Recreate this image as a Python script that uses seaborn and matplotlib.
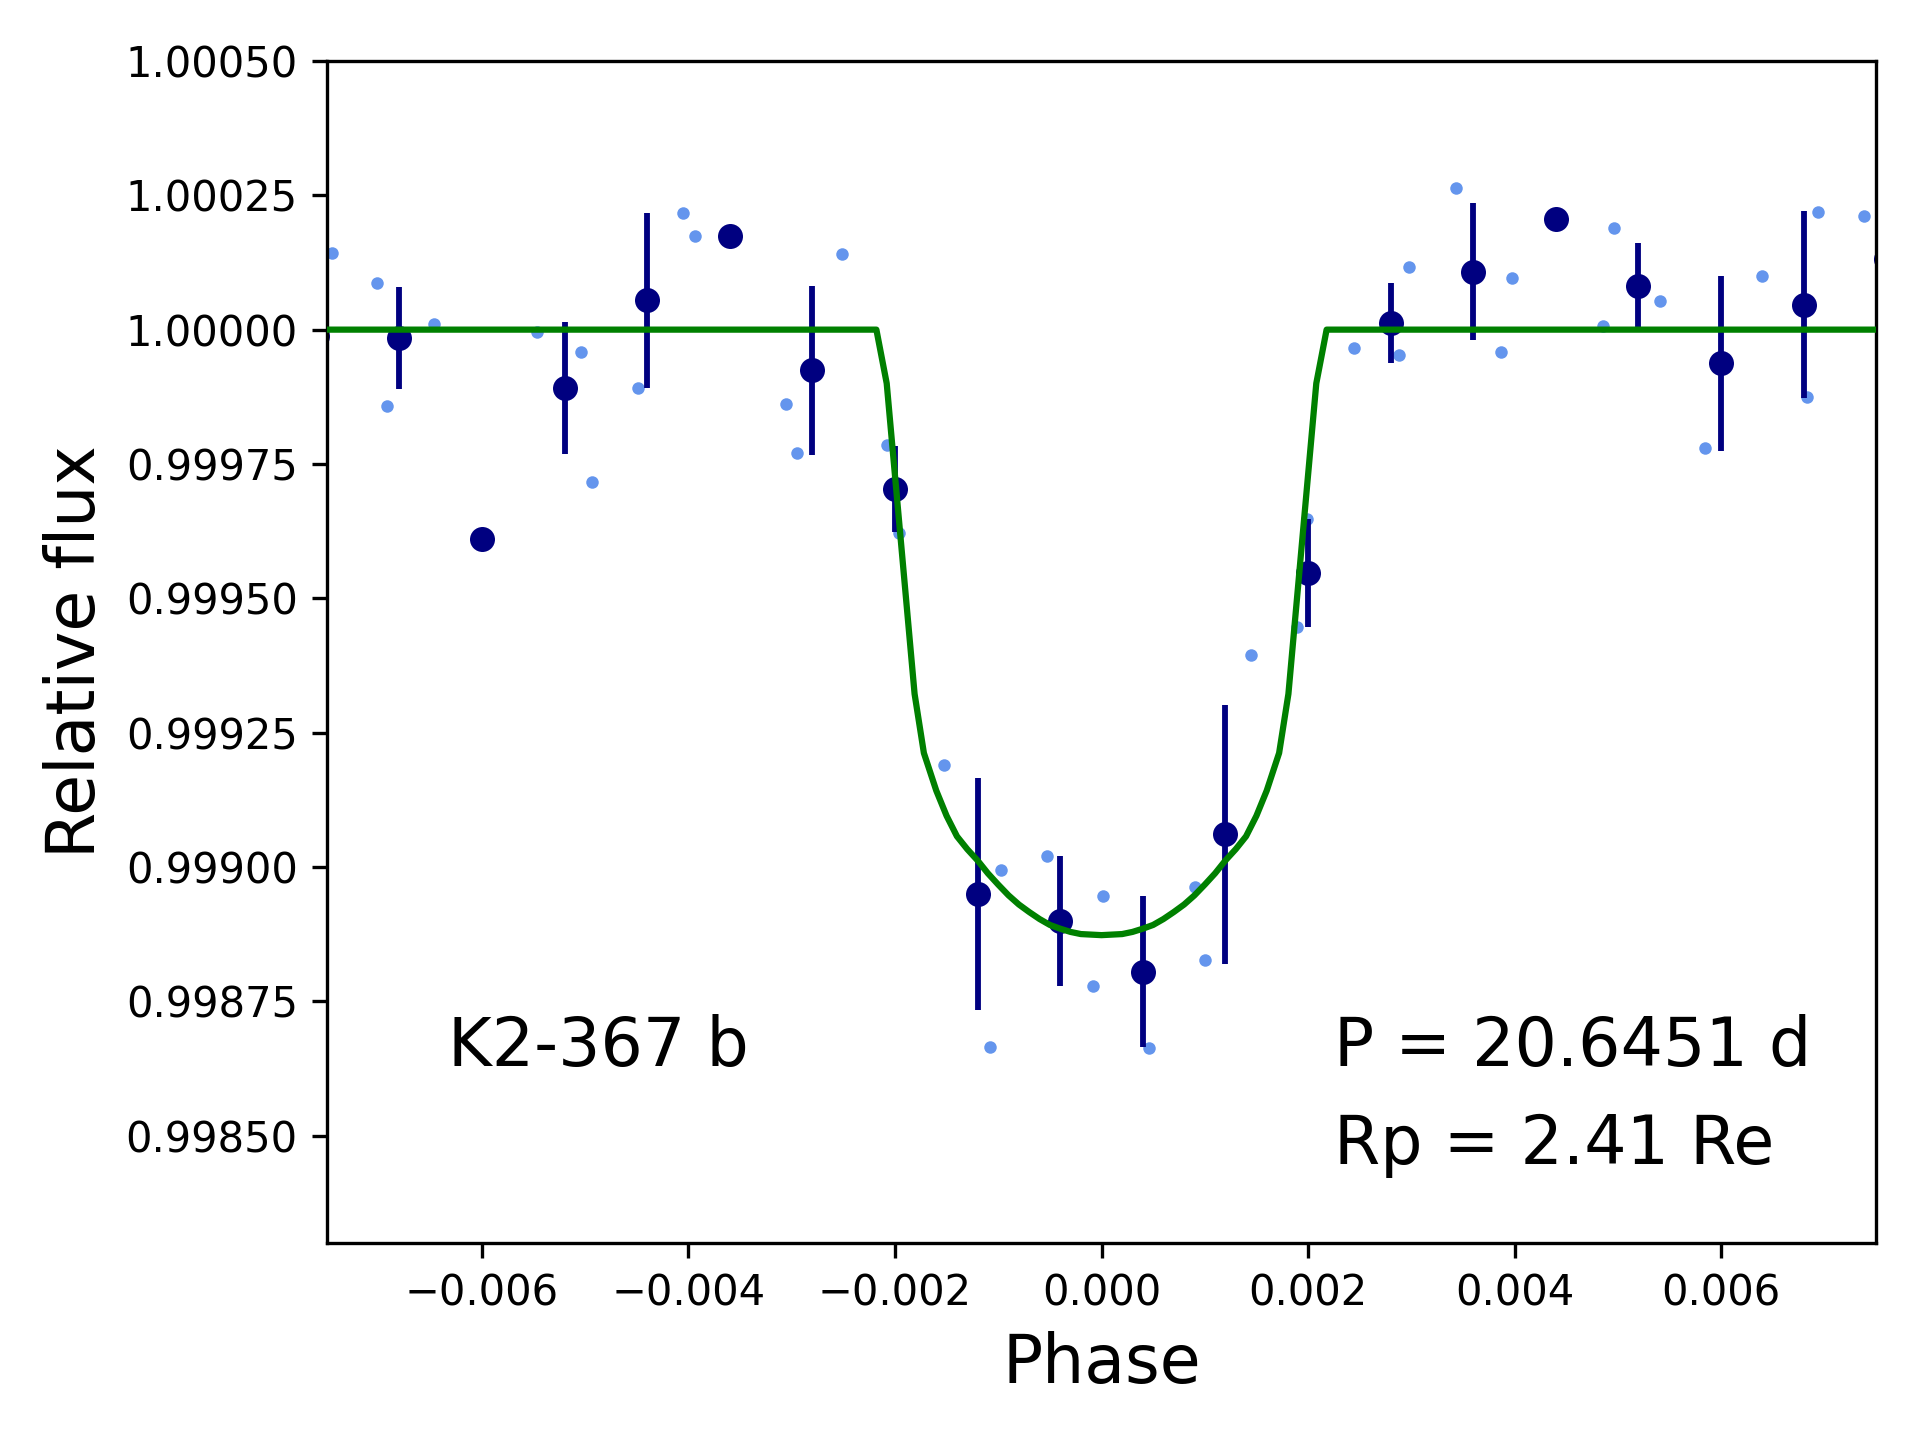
import numpy as np
import pandas as pd
import matplotlib
matplotlib.use("Agg")
import matplotlib.pyplot as plt
import seaborn as sns
from matplotlib.ticker import ScalarFormatter

# ---------------- data ----------------
light_phase = [-0.00745, -0.00702, -0.00692, -0.00646, -0.00547, -0.00504, -0.00493,
               -0.00449, -0.00405, -0.00394, -0.00306, -0.00295, -0.00251,
               -0.00208, -0.001965, -0.001522, -0.001075, -0.000977, -0.00053,
               -0.000083, 0.000014, 0.000458, 0.000905, 0.001002, 0.001449,
               0.001896, 0.001993, 0.002442, 0.002879, 0.002976, 0.003431,
               0.003865, 0.003972, 0.004854, 0.004961, 0.005409, 0.005846,
               0.006395, 0.006832, 0.006940, 0.007381]
light_flux = [1.000143, 1.000087, 0.999858, 1.000011, 0.999995, 0.999958, 0.999717,
              0.999891, 1.000217, 1.000174, 0.999861, 0.999770, 1.000140,
              0.999785, 0.999621, 0.999189, 0.998665, 0.998995, 0.999021,
              0.998779, 0.998946, 0.998663, 0.998963, 0.998826, 0.999394,
              0.999447, 0.999647, 0.999966, 0.999952, 1.000117, 1.000264,
              0.999959, 1.000097, 1.000006, 1.000190, 1.000053, 0.999780,
              1.000100, 0.999874, 1.000219, 1.000211]

binned_phase = [-0.0076, -0.0068, -0.0060, -0.0052, -0.0044, -0.0036, -0.0028,
                -0.0020, -0.0012, -0.0004, 0.0004, 0.0012, 0.0020, 0.0028,
                0.0036, 0.0044, 0.0052, 0.0060, 0.0068, 0.0076]
binned_flux = [0.999988, 0.999984, 0.999611, 0.999891, 1.000055, 1.000174, 0.999924,
               0.999704, 0.998950, 0.998900, 0.998805, 0.999061, 0.999547, 1.000012,
               1.000108, 1.000206, 1.000082, 0.999937, 1.000046, 1.000131]
binned_err = [np.nan, 0.000095, np.nan, 0.000123, 0.000163, np.nan, 0.000158,
              0.000080, 0.000216, 0.000121, 0.000141, 0.000241, 0.000100, 0.000074,
              0.000128, np.nan, 0.000079, 0.000163, 0.000174, np.nan]

model_phase = [-0.0075, -0.00218, -0.00208, -0.00181, -0.00172, -0.0016,
               -0.0015, -0.0014, -0.0013, -0.0012, -0.0011, -0.0010, -0.0009, -0.0008,
               -0.0007, -0.0006, -0.0005, -0.0004, -0.0003, -0.0002, -0.0001, 0.0,
               0.0001, 0.0002, 0.0003, 0.0004, 0.0005, 0.0006, 0.0007, 0.0008,
               0.0009, 0.0010, 0.0011, 0.0012, 0.0013, 0.0014, 0.0015, 0.0016,
               0.00172, 0.00181, 0.00208, 0.00218, 0.0075]
model_flux = [1.000000, 1.000000, 0.999900, 0.999322, 0.999212, 0.999142,
              0.999095, 0.999057, 0.999033, 0.999012, 0.998988, 0.998967, 0.998947, 0.998930,
              0.998916, 0.998903, 0.998892, 0.998885, 0.998879, 0.998875, 0.998874, 0.998873,
              0.998874, 0.998875, 0.998879, 0.998885, 0.998892, 0.998903, 0.998916, 0.998930,
              0.998947, 0.998967, 0.998988, 0.999012, 0.999033, 0.999057, 0.999095, 0.999142,
              0.999212, 0.999322, 0.999900, 1.000000, 1.000000]

x_ticks = [-0.006, -0.004, -0.002, 0.0, 0.002, 0.004, 0.006]
y_ticks = [0.99850, 0.99875, 0.99900, 0.99925, 0.99950, 0.99975, 1.00000, 1.00025, 1.00050]

planet_name = "K2-367 b"
period_text = "P = 20.6451 d"
radius_text = "Rp = 2.41 Re"

# ---------------- figure ----------------
light_df = pd.DataFrame({"phase": light_phase, "flux": light_flux})
binned_df = pd.DataFrame({"phase": binned_phase, "flux": binned_flux, "err": binned_err})
model_df = pd.DataFrame({"phase": model_phase, "flux": model_flux})

fig = plt.figure(figsize=(6.4, 4.8), dpi=300)
ax = fig.add_axes([327 / 1920, 1 - 1243 / 1440, (1876 - 327) / 1920, (1243 - 61) / 1440])

sns.scatterplot(data=light_df, x="phase", y="flux", color="cornflowerblue",
                s=9, linewidth=0, ax=ax, zorder=1)
ax.errorbar(binned_df["phase"], binned_df["flux"], yerr=binned_df["err"], fmt="none",
            ecolor="navy", elinewidth=1.4, capsize=0, zorder=2)
sns.scatterplot(data=binned_df, x="phase", y="flux", color="navy",
                s=36, linewidth=0, ax=ax, zorder=2.5)
sns.lineplot(data=model_df, x="phase", y="flux", color="green", linewidth=1.5,
             ax=ax, zorder=3, estimator=None)

ax.set_xlim(-0.0075, 0.0075)
ax.set_ylim(0.9983, 1.0005)
ax.set_xticks(x_ticks)
ax.set_yticks(y_ticks)
ax.xaxis.set_major_formatter(ScalarFormatter(useOffset=False))
ax.yaxis.set_major_formatter(ScalarFormatter(useOffset=False))
ax.tick_params(labelsize=10)
ax.set_xlabel("Phase", fontsize=16)
ax.set_ylabel("Relative flux", fontsize=16)

ax.text(0.078, 0.15, planet_name, transform=ax.transAxes, fontsize=16)
ax.text(0.65, 0.15, period_text, transform=ax.transAxes, fontsize=16)
ax.text(0.65, 0.067, radius_text, transform=ax.transAxes, fontsize=16)

fig.savefig("out.png", dpi=300)
